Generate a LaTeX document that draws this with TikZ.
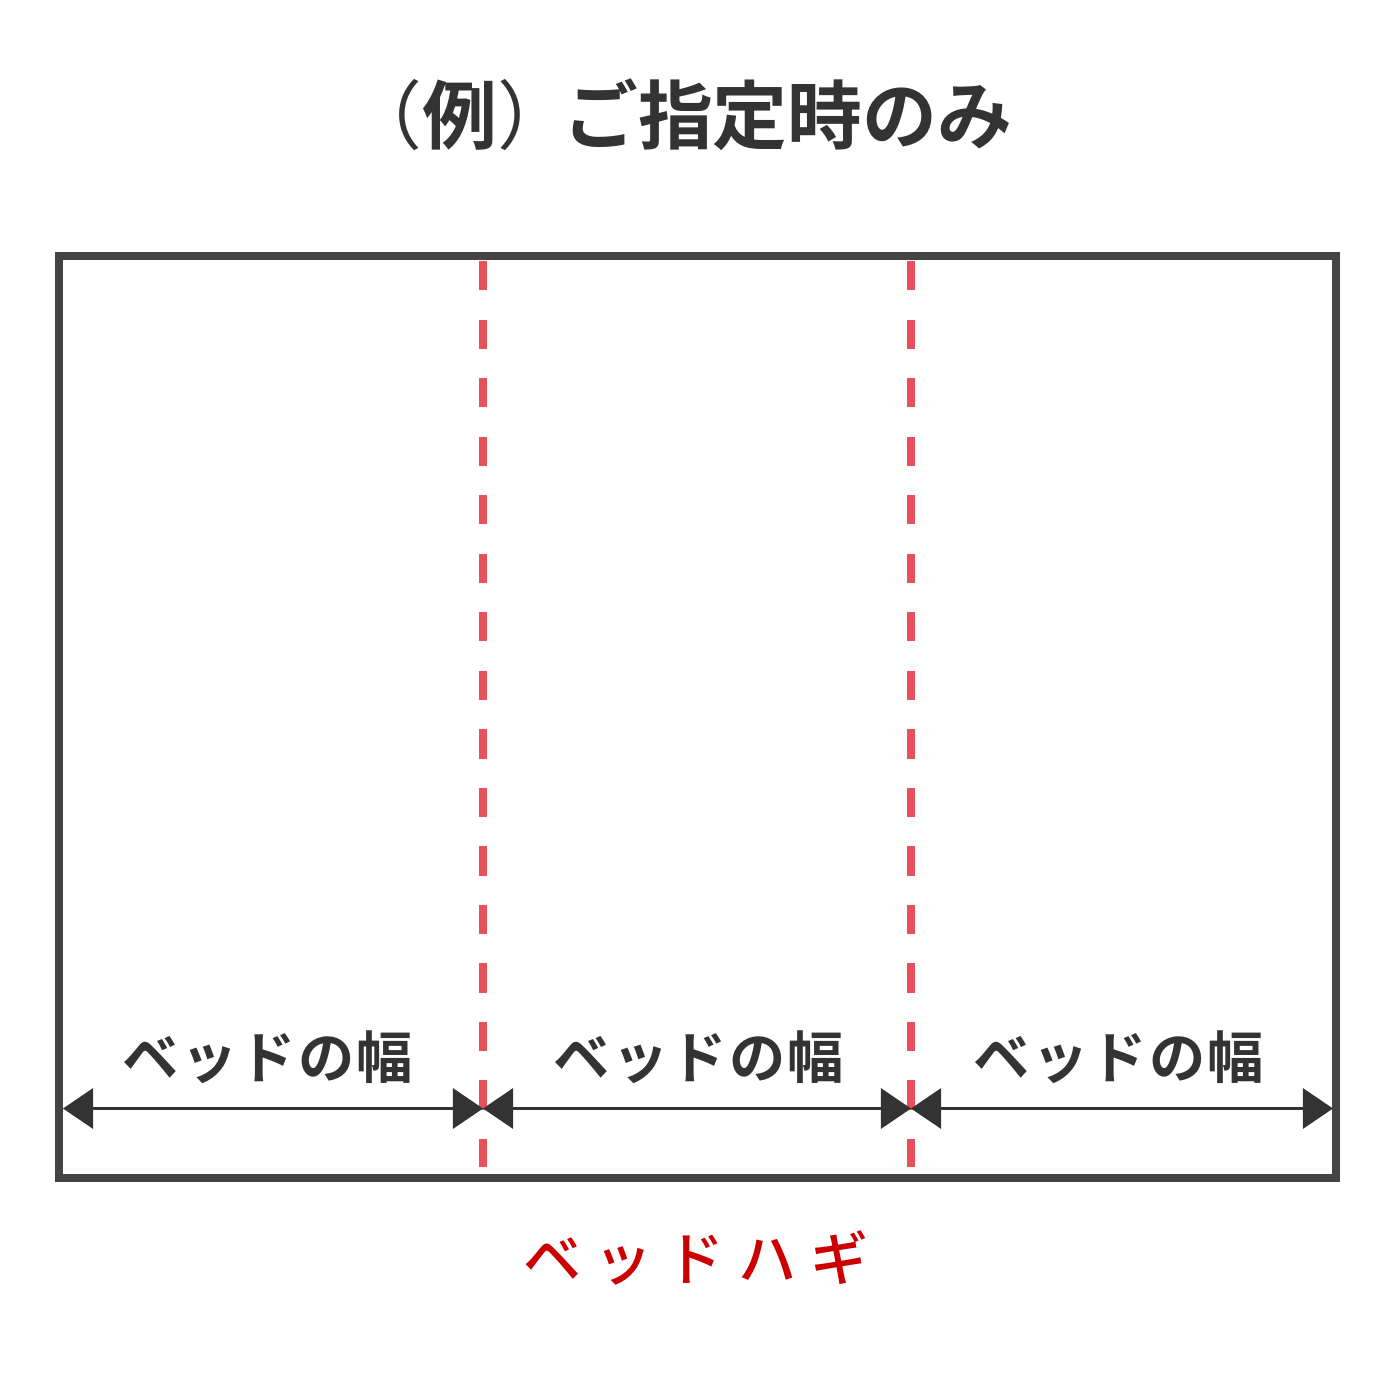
\documentclass[tikz,border=0pt]{standalone}
\usepackage{fontspec}
\usetikzlibrary{arrows.meta}

\newfontfamily\jpfont{Noto Sans CJK JP}
\newfontfamily\jpbold{Noto Sans CJK JP Bold}
\newfontfamily\jpwide[LetterSpace=4]{Noto Sans CJK JP Bold}
\newfontfamily\jpseam[LetterSpace=24]{Noto Sans CJK JP Medium}

\definecolor{framegray}{HTML}{444444}
\definecolor{inkgray}{HTML}{333333}
\definecolor{seamred}{HTML}{E8505C}
\definecolor{labelred}{HTML}{CC0000}

\tikzset{
  widthlabel/.style={font=\jpwide\fontsize{16}{18}\selectfont, text=inkgray},
  widtharrow/.style={<->, draw=inkgray, line width=0.03cm},
  seamline/.style={draw=seamred, line width=0.08cm, dash pattern=on 0.2925cm off 0.2925cm}
}

\begin{document}
\begin{tikzpicture}[x=0.01cm,y=-0.01cm,>={Triangle[length=0.3cm,width=0.4cm]}]

  \useasboundingbox (0,0) rectangle (1396,1396);

  % title
  \node[font=\jpbold\fontsize{21.3}{25}\selectfont,
        text=inkgray] (title) at (680,115)
        {{\jpfont （}例{\jpfont ）}\kern-0.12em ご指定時のみ};

  % outer frame
  \node[rectangle,
        draw = framegray,
        line width = 0.08cm,
        minimum width = 12.77cm,
        minimum height = 9.22cm] (bed) at (697.5,717) {};

  % seam lines
  \coordinate (s1top) at (483,261);
  \coordinate (s1bot) at (483,1167);
  \coordinate (s2top) at (911,261);
  \coordinate (s2bot) at (911,1167);
  \draw[seamline] (s1top) -- (s1bot);
  \draw[seamline] (s2top) -- (s2bot);

  % width arrows
  \coordinate (w0) at (63,1108.5);
  \coordinate (w1) at (483,1108.5);
  \coordinate (w2) at (911,1108.5);
  \coordinate (w3) at (1333,1108.5);
  \draw[widtharrow] (w0) -- (w1);
  \draw[widtharrow] (w1) -- (w2);
  \draw[widtharrow] (w2) -- (w3);

  \node[widthlabel] (lab1) at (268,1057) {ベッドの幅};
  \node[widthlabel] (lab2) at (699,1057) {ベッドの幅};
  \node[widthlabel] (lab3) at (1119,1057) {ベッドの幅};

  % seam caption
  \node[font=\jpseam\fontsize{16.5}{18}\selectfont,
        text=labelred] (seam) at (696,1258) {ベッドハギ};

\end{tikzpicture}
\end{document}
